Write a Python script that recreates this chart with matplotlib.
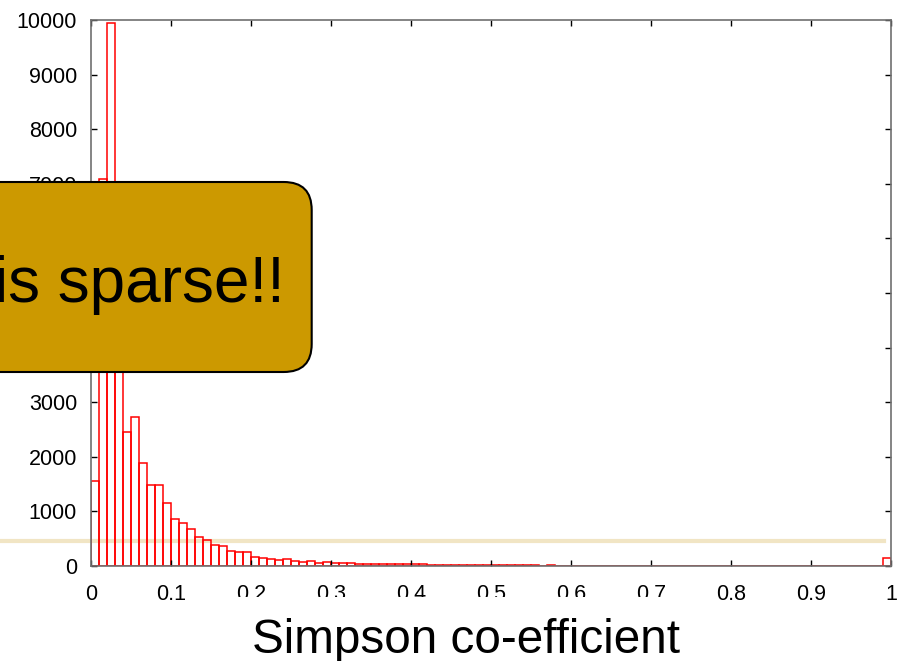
import matplotlib
matplotlib.use("Agg")
import matplotlib.pyplot as plt
import numpy as np
from matplotlib.patches import FancyBboxPatch, Rectangle
from matplotlib.lines import Line2D

plt.rcParams["font.family"] = ["Liberation Sans", "DejaVu Sans"]

# histogram of Simpson co-efficients, 100 bins over [0, 1]
bin_width = 0.01
counts = [
    1560, 7080, 9950, 5200, 2450, 2730, 1890, 1490, 1480, 1150,
    860, 790, 670, 540, 470, 380, 360, 275, 250, 265,
    160, 140, 135, 105, 120, 90, 75, 85, 60, 72,
    55, 60, 48, 38, 43, 42, 37, 36, 30, 36,
    30, 28, 22, 20, 18, 17, 15, 16, 14, 13,
    12, 14, 11, 12, 10, 11, 9, 10, 9, 8,
    9, 8, 7, 8, 7, 6, 7, 6, 6, 5,
    6, 5, 5, 6, 5, 4, 5, 4, 5, 4,
    4, 5, 4, 3, 4, 3, 4, 3, 3, 4,
    3, 3, 4, 3, 3, 3, 4, 3, 5, 140,
]
x_ticks = [0, 0.1, 0.2, 0.3, 0.4, 0.5, 0.6, 0.7, 0.8, 0.9, 1]
x_tick_labels = ["0", "0.1", "0.2", "0.3", "0.4", "0.5", "0.6", "0.7", "0.8", "0.9", "1"]
y_ticks = [0, 1000, 2000, 3000, 4000, 5000, 6000, 7000, 8000, 9000, 10000]
x_label = "Simpson co-efficient"
note_text = "is sparse!!"

W, H = 905, 661
fig = plt.figure(figsize=(W / 100, H / 100), dpi=100)
ax = fig.add_axes([91 / W, (H - 566) / H, 800 / W, 546 / H])
ax.patch.set_visible(False)

left_edges = np.arange(len(counts)) * bin_width
ax.bar(left_edges, counts, width=bin_width, align="edge",
       facecolor="none", edgecolor="#FF0000", linewidth=1.1)

ax.set_xlim(0, 1)
ax.set_ylim(0, 10000)
ax.set_xticks(x_ticks)
ax.set_xticklabels(x_tick_labels)
ax.set_yticks(y_ticks)
ax.tick_params(direction="in", length=4.5, width=1, top=True, right=True,
               labelsize=15.5, colors="black")
ax.tick_params(axis="x", pad=13)
ax.tick_params(axis="y", pad=10)
for s in ax.spines.values():
    s.set_color("#707070")
    s.set_linewidth(1.2)

# x label, slightly left of the axes centre as in the original
fig.text(466 / W, (H - 653) / H, x_label, ha="center", va="baseline",
         fontsize=34.3)

# -------------------------------
# slide overlays
# -------------------------------
px = fig.dpi_scale_trans

# beige highlight line (behind the bars)
fig.add_artist(Line2D([0, 8.84], [(H - 541) / 100] * 2, transform=px,
                      color="#F1E5C4", linewidth=3, zorder=-1))

# white strip hiding the lower part of the tick labels
fig.add_artist(Rectangle((2.12, (H - 617) / 100), 5.0, 0.20, transform=px,
                         facecolor="white", edgecolor="none", zorder=2))

# callout box
box = FancyBboxPatch((-0.6, (H - 372) / 100), 3.717, 1.90,
                     boxstyle="round,pad=0,rounding_size=0.28",
                     transform=px, facecolor="#CC9900", edgecolor="black",
                     linewidth=1.5, zorder=3)
fig.add_artist(box)
fig.text(2.85, (H - 302) / 100, note_text, transform=px, ha="right",
         va="baseline", fontsize=46, color="black", zorder=4)

fig.savefig("out.png", dpi=100)
